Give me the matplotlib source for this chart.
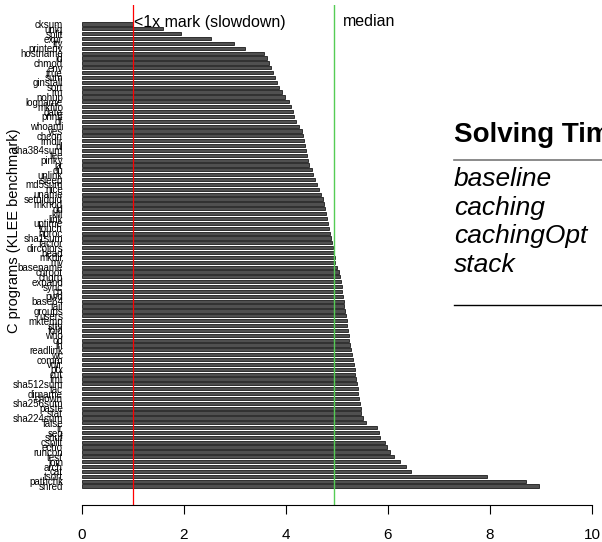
import numpy as np
import matplotlib
matplotlib.use('Agg')
import matplotlib.pyplot as plt
from matplotlib.lines import Line2D
import matplotlib.transforms as mtransforms

plt.rcParams['font.family'] = ['Liberation Sans', 'DejaVu Sans']

# programs, top to bottom (sorted by speedup)
programs = ['cksum', 'uniq', 'split', 'expr', 'tty', 'printenv', 'hostname', 'id',
            'chmod', 'env', 'true', 'sum', 'ginstall', 'sort', 'rm', 'nohup',
            'logname', 'mkfifo', 'date', 'printf', 'df', 'whoami', 'yes', 'chcon',
            'rmdir', 'nl', 'sha384sum', 'tee', 'pinky', 'pr', 'du', 'unlink',
            'sleep', 'md5sum', 'nice', 'uname', 'setuidgid', 'mknod', 'dd', 'kill',
            'link', 'uptime', 'touch', 'nproc', 'sha1sum', 'factor', 'dircolors', 'head',
            'mkdir', 'mv', 'basename', 'chroot', 'chgrp', 'expand', 'sync', 'cp',
            'pwd', 'base64', 'tail', 'groups', 'users', 'mktemp', 'stty', 'fold',
            'who', 'od', 'ln', 'readlink', 'wc', 'comm', 'vdir', 'ptx',
            'cut', 'fmt', 'sha512sum', 'tac', 'dirname', 'chown', 'sha256sum', 'paste',
            'stat', 'sha224sum', 'false', 'tr', 'seq', 'shuf', 'csplit', 'echo',
            'runcon', 'test', 'join', 'arch', 'cat', 'tsort', 'pathchk', 'shred']

speedup = [1.00, 1.59, 1.94, 2.53, 2.98, 3.20, 3.57, 3.62,
           3.66, 3.70, 3.74, 3.78, 3.82, 3.86, 3.92, 3.98,
           4.05, 4.10, 4.13, 4.16, 4.20, 4.26, 4.32, 4.34,
           4.36, 4.38, 4.40, 4.42, 4.44, 4.46, 4.50, 4.53,
           4.56, 4.60, 4.64, 4.68, 4.72, 4.74, 4.76, 4.78,
           4.80, 4.82, 4.84, 4.86, 4.88, 4.90, 4.92, 4.94,
           4.96, 4.97, 5.00, 5.03, 5.05, 5.07, 5.09, 5.10,
           5.11, 5.13, 5.14, 5.15, 5.17, 5.19, 5.20, 5.22,
           5.23, 5.24, 5.26, 5.28, 5.29, 5.31, 5.33, 5.35,
           5.36, 5.38, 5.39, 5.41, 5.42, 5.44, 5.45, 5.47,
           5.48, 5.50, 5.57, 5.79, 5.82, 5.84, 5.95, 5.98,
           6.03, 6.11, 6.24, 6.35, 6.46, 7.94, 8.70, 8.97]

table_title = 'Solving Time'
table_rows = ['baseline', 'caching', 'cachingOpt', 'stack']

W, H = 602, 542
fig = plt.figure(figsize=(W / 100, H / 100), dpi=100)
# axes: x 82..592 px, y 5..505 px
ax = fig.add_axes([82 / W, 1 - 505 / H, (592 - 82) / W, (505 - 5) / H])

n = len(programs)
pos = np.arange(n)
ax.barh(pos, speedup, height=0.66, color='#505050', edgecolor='black', linewidth=0.5)

pitch = (486 - 24) / (n - 1)
ax.set_ylim((505 - 24) / pitch, (5 - 24) / pitch)
ax.set_xlim(0, 10)

ax.set_yticks(pos)
ax.set_yticklabels(programs, fontsize=7)
ax.tick_params(axis='y', length=0, pad=13.7)
ax.set_xticks([0, 2, 4, 6, 8, 10])
ax.tick_params(axis='x', length=6.5, width=0.8, labelsize=11, pad=10)

for s in ['top', 'right', 'left']:
    ax.spines[s].set_visible(False)
ax.spines['bottom'].set_linewidth(0.8)

med = np.median(speedup)
ax.axvline(1.0, color='red', linewidth=0.9)
ax.axvline(med, color='#55cc55', linewidth=1.0)

trans = mtransforms.blended_transform_factory(ax.transData, ax.transAxes)
ax.text(1.02, 0.966, '<1x mark (slowdown)', transform=trans, fontsize=11.5,
        va='center', ha='left')
ax.text(med + 0.17, 0.966, 'median', transform=trans, fontsize=11.5,
        va='center', ha='left')

fig.text(14 / W, 1 - 231 / H, 'C programs (KLEE benchmark)', rotation=90,
         fontsize=10.5, va='center', ha='center')

# side table
fig.text(454 / W, 1 - 142 / H, table_title, fontsize=20, fontweight='bold',
         va='baseline', ha='left')
fig.add_artist(Line2D([454 / W, 1.0], [1 - 160 / H, 1 - 160 / H],
                      transform=fig.transFigure, color='#777777', linewidth=1.2))
for i, r in enumerate(table_rows):
    fig.text(454 / W, 1 - (186 + 28.7 * i) / H, r, fontsize=19, style='italic',
             va='baseline', ha='left')
fig.add_artist(Line2D([454 / W, 1.0], [1 - 305 / H, 1 - 305 / H],
                      transform=fig.transFigure, color='black', linewidth=1.0))

fig.savefig('out.png', dpi=100)
